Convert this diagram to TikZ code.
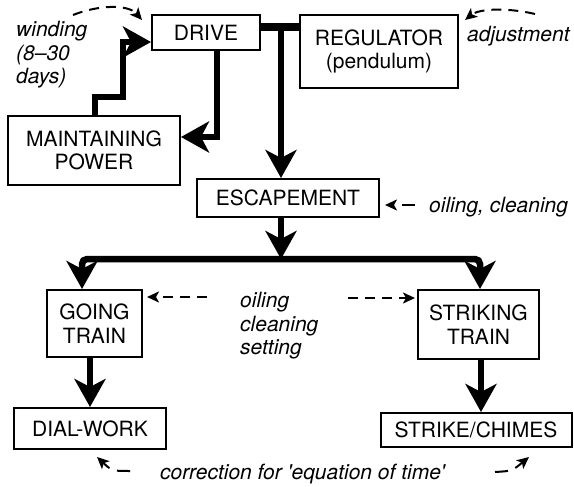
\documentclass[tikz,border=0pt]{standalone}
\usepackage{fontspec}
\setmainfont{TeX Gyre Heros}[Ligatures=TeXOff]
\usetikzlibrary{arrows.meta}
\begin{document}
\begin{tikzpicture}[x=1pt,y=-1pt,
  box/.style={draw, line width=2pt, inner sep=0pt, align=center,
    font=\fontsize{21}{23.5}\selectfont},
  note/.style={inner sep=0pt, align=left,
    font=\fontsize{21}{23.5}\selectfont\itshape},
  bigtip/.tip={Stealth[length=28pt,width=31pt,inset=8pt]},
  smalltip/.tip={Stealth[length=12pt,width=11pt,inset=3pt]},
  flow/.style={line width=6.5pt, -bigtip},
  hint/.style={line width=2pt, dash pattern=on 10pt off 7pt, -smalltip},
  shorthint/.style={line width=2pt, dash pattern=on 13pt off 8pt, -smalltip}]
\useasboundingbox (0,0) rectangle (574,487);

% blocks of the clock
\node[box, minimum width=108pt, minimum height=35pt] (drive) at (206,32.5) {DRIVE};
\node[box, minimum width=158pt, minimum height=73pt] (reg) at (379,51.5) {REGULATOR\\(pendulum)};
\node[box, minimum width=172pt, minimum height=69pt] (maint) at (94,150.5) {MAINTAINING\\POWER};
\node[box, minimum width=182pt, minimum height=38pt] (esc) at (288,198) {ESCAPEMENT};
\node[box, minimum width=95pt, minimum height=67pt] (going) at (94.5,323.5) {GOING\\TRAIN};
\node[box, minimum width=121pt, minimum height=69pt] (striking) at (478.5,324.5) {STRIKING\\TRAIN};
\node[box, minimum width=152pt, minimum height=41pt] (dial) at (90,428.5) {DIAL-WORK};
\node[box, minimum width=191pt, minimum height=34pt] (strike) at (476,430) {STRIKE/CHIMES};

% italic notes
\node[note, anchor=north west] (wind) at (16,21) {winding\\(8–30\\days)};
\node[note, anchor=base west] (adj) at (467,42) {adjustment};
\node[note, anchor=base west] (oil) at (429,212) {oiling, cleaning};
\node[note, anchor=north west] (care) at (240,292) {oiling\\cleaning\\setting};
\node[note, anchor=base west] (corr) at (160,479) {correction for 'equation of time'};

% bend points of the power lines
\coordinate (j1) at (281,27);
\coordinate (d1) at (217,137);
\coordinate (w1) at (95,97);
\coordinate (w2) at (123,42);
\coordinate (b1) at (82,259);
\coordinate (b2) at (480,259);
\coordinate (s1) at (481,390);

% power flow
\draw[line width=8pt] (drive.east |- j1) -- (reg.west |- j1);
\draw[flow] (j1) -- (j1 |- esc.north);
\draw[flow] (drive.south -| d1) |- (maint.east |- d1);
\draw[flow] (maint.north -| w1) -- (w1) -| (w2) -- (drive.west |- w2);
\draw[flow] (esc.south -| j1) -- (j1 |- b1);
\draw[line width=6.5pt, bigtip-bigtip, rounded corners=5pt]
  (going.north -| b1) -- (b1) -- (b2) -- (striking.north -| b2);
\draw[flow] (going.south -| dial.north) -- (dial.north);
\draw[flow] (striking.south -| s1) -- (strike.north -| s1);

% maintenance hints
\coordinate (wa) at (73,15);
\coordinate (aa) at (535,14);
\coordinate (oa) at (415,205);
\coordinate (ca) at (207,297);
\coordinate (sa) at (348,298);
\coordinate (la) at (130,471);
\coordinate (ra) at (495,472);
\draw[hint] (wa) .. controls (98,5) and (128,4) .. ([xshift=-9pt,yshift=-6pt]drive.north west);
\draw[hint] (aa) .. controls (510,8) and (480,8) .. ([xshift=6pt,yshift=-6pt]reg.north east);
\draw[shorthint] (oa) -- ([xshift=5pt]esc.east |- oa);
\draw[hint] (ca) -- ([xshift=4pt]going.east |- ca);
\draw[hint] (sa) -- ([xshift=-2pt]striking.west |- sa);
\draw[shorthint] (la) .. controls (112,471) .. ([xshift=7pt,yshift=-7pt]dial.south);
\draw[shorthint] (ra) .. controls (512,471) .. ([xshift=53pt,yshift=-9pt]strike.south);
\end{tikzpicture}
\end{document}
